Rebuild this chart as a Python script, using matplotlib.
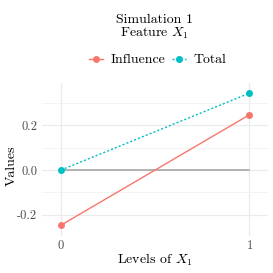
import matplotlib
matplotlib.use("Agg")
import matplotlib.pyplot as plt
from matplotlib.ticker import MultipleLocator

plt.rcParams['font.family'] = 'serif'
plt.rcParams['font.serif'] = ['cmr10']
plt.rcParams['mathtext.fontset'] = 'cm'
plt.rcParams['axes.formatter.use_mathtext'] = True

# data
levels = [0, 1]
influence = [-0.247, 0.247]
total = [0.0, 0.344]
baseline = [0.0, 0.0]
x_ticks = [0, 1]
y_ticks = [-0.2, 0.0, 0.2]
y_tick_labels = ['-0.2', '0.0', '0.2']

W = H = 273
fig = plt.figure(figsize=(2.73, 2.73), dpi=100)
ax = fig.add_axes([42 / W, (H - 236) / H, (268 - 42) / W, (236 - 83) / H])

grid_col = '#EBEBEB'
ax.set_xlim(-0.1, 1.1)
ax.set_ylim(-0.295, 0.39)
ax.set_xticks(x_ticks)
ax.set_yticks(y_ticks)
ax.set_yticklabels(y_tick_labels)
ax.yaxis.set_minor_locator(MultipleLocator(0.1))
ax.grid(True, which='major', color=grid_col, lw=0.9)
ax.grid(True, which='minor', axis='y', color='#F3F3F3', lw=0.7)
ax.set_axisbelow(True)
for s in ax.spines.values():
    s.set_visible(False)
ax.tick_params(which='both', length=0, labelsize=9, colors='#4D4D4D')
ax.tick_params(axis='x', pad=2)
ax.tick_params(axis='y', pad=3.5)

ax.plot(levels, baseline, color='#A0A0A0', lw=1.1, zorder=2)
ax.plot(levels, influence, color='#F8766D', lw=1.0, marker='o', ms=4.0,
        label='Influence', zorder=3)
ax.plot(levels, total, color='#00BFC4', lw=1.0, ls=(0, (1.5, 1.5)), marker='o',
        ms=4.0, label='Total', zorder=3)

ax.set_xlabel(r'Levels of $X_1$', fontsize=10)
ax.set_ylabel('Values', fontsize=10)
ax.xaxis.set_label_coords(0.5, -(252 - 236) / 153)
ax.yaxis.set_label_coords(-(42 - 18) / 226, 0.46)

fig.text(155 / W, 1 - 20 / H, 'Simulation 1', ha='center', va='center', fontsize=10)
fig.text(155 / W, 1 - 33 / H, r'Feature $X_1$', ha='center', va='center', fontsize=10)

fig.legend(loc='center', bbox_to_anchor=(158 / W, 1 - 60 / H), ncol=2,
           frameon=False, fontsize=10, handlelength=1.0, handletextpad=0.55,
           columnspacing=0.5, borderpad=0)

fig.savefig('out.png', dpi=100)
